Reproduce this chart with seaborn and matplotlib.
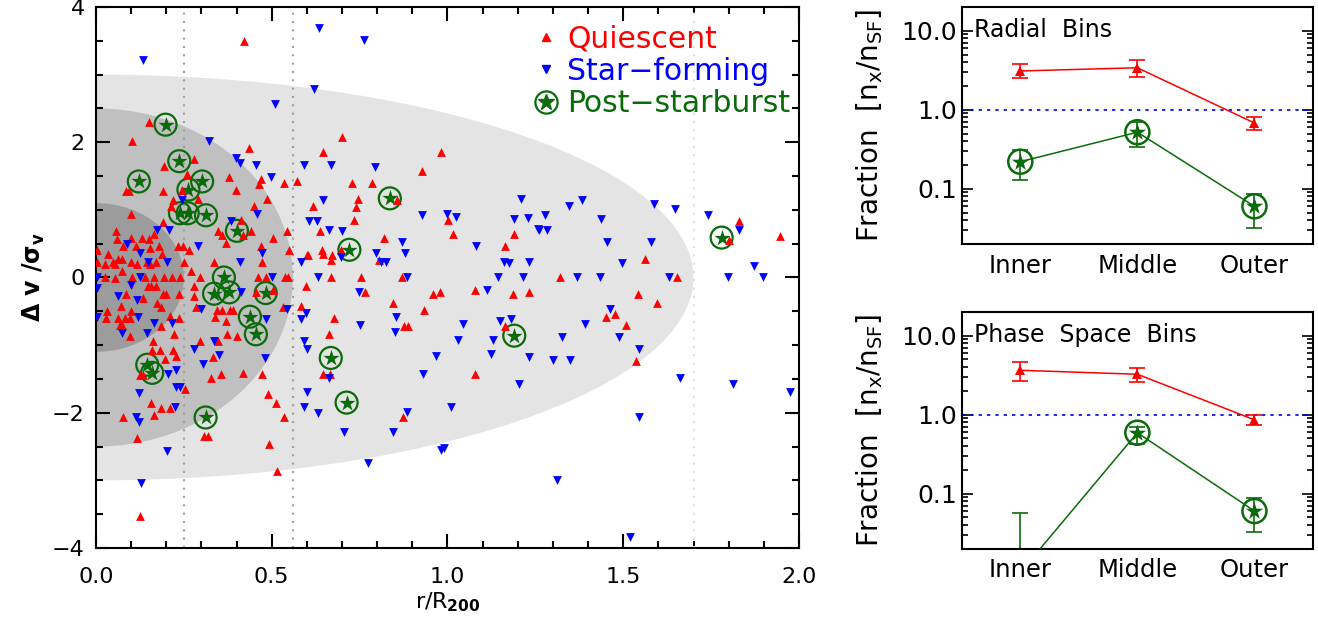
import matplotlib.pyplot as plt
import numpy as np
import seaborn as sns
from matplotlib.patches import Ellipse
from matplotlib.lines import Line2D
from matplotlib.legend_handler import HandlerTuple
from matplotlib.ticker import MultipleLocator, FormatStrFormatter, FixedLocator, FixedFormatter

sns.set_style('ticks')
plt.rcParams['font.family'] = ['DejaVu Sans']
plt.rcParams['mathtext.default'] = 'regular'
for k in ['text.color', 'axes.labelcolor', 'xtick.color', 'ytick.color', 'axes.edgecolor']:
    plt.rcParams[k] = 'black'

# ---- phase-space points: r/R200, dv/sigma ----
q_r = [0.151, 0.103, 0.279, 0.193, 0.258, 0.085, 0.094, 0.191, 0.245, 0.218, 0.213, 0.290, 0.100, 0.191,
       0.435, 0.379, 0.397, 0.470, 0.465, 0.536, 0.487, 0.450, 0.414, 0.346, 0.360, 0.370, 0.419, 0.441,
       0.503, 0.544, 0.469, 0.232, 0.248, 0.265, 0.251, 0.337, 0.473, 0.269, 0.056, 0.060, 0.099, 0.132,
       0.152, 0.165, 0.077, 0.113, 0.155, 0.179, 0.189, 0.035, 0.004, 0.064, 0.075, 0.027, 0.049, 0.054,
       0.099, 0.116, 0.146, 0.153, 0.172, 0.073, 0.002,
       0.026, 0.054, 0.103, 0.139, 0.166, 0.193, 0.217, 0.239, 0.296, 0.462, 0.484, 0.538,
       0.149, 0.158, 0.170, 0.280, 0.085, 0.190, 0.200, 0.236, 0.279, 0.454, 0.505, 0.135, 0.173, 0.071,
       0.184, 0.286, 0.032, 0.099, 0.345, 0.359, 0.381, 0.390, 0.531, 0.030, 0.064, 0.084, 0.097, 0.212,
       0.237, 0.338, 0.068, 0.075, 0.184, 0.222, 0.097, 0.370, 0.374, 0.400, 0.163, 0.296, 0.348, 0.160,
       0.182, 0.218, 0.229, 0.196, 0.334, 0.125, 0.135, 0.357, 0.417, 0.473, 0.326, 0.253, 0.490, 0.156,
       0.511, 0.184, 0.210, 0.165, 0.076, 0.536, 0.116, 0.307, 0.319, 0.492, 0.125, 0.514, 0.420,
       0.701, 0.647, 0.981, 0.928, 0.571, 0.729, 0.784, 0.745, 0.618, 0.741, 0.734, 0.637, 0.819, 1.002,
       1.015, 1.189, 1.163, 0.550, 0.642, 0.645, 0.599, 0.604, 0.671, 0.669, 0.697, 0.805, 0.857, 0.545,
       0.670, 0.754, 0.872,
       0.598, 0.764, 0.846, 0.960, 0.979, 1.078, 1.187, 1.232, 0.933, 0.583, 0.677, 0.876, 0.887, 0.662,
       1.164, 0.647, 0.666, 1.077, 0.874,
       1.320, 1.654, 1.543, 1.595, 1.451, 1.476, 1.507, 1.537, 1.562, 1.830, 1.946, 1.801]
q_v = [2.30, 2.02, 1.75, 1.65, 1.53, 1.28, 1.28, 1.28, 1.29, 1.14, 1.05, 1.16, 0.94, 0.82,
       1.91, 1.48, 1.29, 1.46, 1.38, 1.39, 1.16, 1.05, 0.85, 0.69, 0.63, 0.51, 0.63, 0.69,
       0.59, 0.69, 0.46, 0.47, 0.47, 0.40, 0.23, 0.23, 0.23, 0.10, 0.69, 0.57, 0.59, 0.59,
       0.57, 0.64, 0.46, 0.47, 0.44, 0.47, 0.34, 0.34, 0.40, 0.28, 0.27, 0.20, 0.23, 0.20,
       0.23, 0.20, 0.23, 0.20, 0.23, 0.10, 0.23,
       0.01, -0.01, 0.01, 0.00, 0.01, 0.00, 0.01, 0.00, 0.01, 0.01, 0.00, 0.01,
       -0.12, -0.12, -0.12, -0.12, -0.24, -0.24, -0.24, -0.24, -0.27, -0.22, -0.19, -0.31, -0.37, -0.42,
       -0.44, -0.44, -0.49, -0.49, -0.48, -0.48, -0.48, -0.48, -0.43, -0.60, -0.60, -0.60, -0.60, -0.57,
       -0.60, -0.58, -0.70, -0.70, -0.71, -0.83, -0.87, -0.65, -0.83, -0.87, -0.94, -0.94, -0.94, -1.07,
       -1.07, -1.07, -1.16, -1.20, -1.18, -1.44, -1.44, -1.42, -1.41, -1.43, -1.49, -1.65, -1.73, -1.86,
       -1.85, -1.93, -1.93, -2.03, -2.07, -2.07, -2.37, -2.35, -2.35, -2.46, -3.52, -2.86, 3.50,
       2.08, 1.85, 1.86, 1.57, 1.42, 1.39, 1.39, 1.16, 1.06, 1.04, 0.85, 0.69, 0.58, 0.85,
       0.64, 0.64, 0.46, 0.40, 0.40, 0.34, 0.33, 0.33, 0.33, 0.26, 0.40, 0.26, 1.15, 0.00,
       0.00, 0.00, 0.00,
       -0.13, -0.22, -0.37, -0.24, -0.22, -0.19, -0.24, -0.22, -0.48, -0.42, -0.60, -0.71, -0.71, -0.84,
       -0.72, -1.42, -1.42, -1.42, -2.06,
       0.00, 0.00, -0.24, -0.37, -0.59, -0.54, -0.70, -1.23, 0.28, 0.84, 0.62, 0.56]

sf_r = [0.135, 0.634, 0.762, 0.620, 0.509, 0.321, 0.397, 0.411, 0.455, 0.498, 0.246, 0.457, 0.383, 0.174,
        0.208, 0.089, 0.125, 0.289, 0.203, 0.149, 0.410, 0.471,
        0.125, 0.502, 0.002, 0.101, 0.064, 0.002, 0.118, 0.004, 0.120, 0.166, 0.144, 0.073, 0.215, 0.299,
        0.413, 0.484, 0.544, 0.336, 0.280, 0.351, 0.305, 0.481, 0.206, 0.228, 0.228, 0.239, 0.123, 0.225,
        0.113, 0.122, 0.201, 0.128,
        0.592, 0.670, 0.794, 0.645, 0.607, 0.630, 0.664, 0.700, 0.928, 0.998, 1.024, 1.080, 1.208, 1.189,
        1.228, 1.258, 0.871, 0.879, 0.798, 0.810, 0.824, 0.582, 0.696, 1.162, 1.175, 1.233, 0.631, 0.884,
        1.145, 1.214,
        0.749, 1.113, 0.597, 0.582, 0.751, 0.853, 0.851, 1.043, 1.150, 1.181, 0.592, 0.599, 1.031, 1.129,
        1.124, 0.966, 1.232, 0.929, 0.664, 1.203, 0.599, 0.592, 0.632, 0.884, 1.010, 0.705, 0.846, 0.981,
        0.990, 0.775,
        1.311, 1.519, 1.546, 1.662, 1.813, 1.974, 1.369, 1.434, 1.629, 1.799, 1.899, 1.461, 1.392, 1.327,
        1.489, 1.546, 1.301, 1.349, 1.382, 1.347, 1.278, 1.436, 1.260, 1.282, 1.587, 1.647, 1.742, 1.830,
        1.453, 1.579, 1.496, 1.872]
sf_v = [3.22, 3.69, 3.51, 2.78, 2.57, 2.02, 1.77, 1.70, 1.66, 1.48, 1.15, 0.94, 0.84, 0.70,
        0.70, 0.49, 0.36, 0.47, 0.23, 0.23, 0.23, 0.36,
        0.01, 0.01, 0.01, -0.11, -0.28, -0.16, -0.34, -0.58, -0.59, -0.68, -0.82, -0.82, -0.68, -0.47,
        -0.22, -0.61, -0.46, -0.94, -1.06, -1.15, -1.28, -1.19, -1.43, -1.37, -1.62, -1.62, -1.71, -1.92,
        -2.07, -2.13, -2.57, -3.04,
        1.66, 1.66, 1.63, 1.15, 0.83, 0.83, 0.70, 0.69, 0.93, 0.94, 0.89, 0.47, 1.16, 0.87,
        0.88, 0.71, 0.53, 0.36, 0.36, 0.23, 0.23, 0.23, 0.31, 0.23, 0.21, 0.23, 0.00, 0.00,
        0.00, 0.00,
        -0.22, -0.18, -0.52, -0.62, -0.70, -0.58, -0.81, -0.69, -0.64, -0.61, -0.94, -1.05, -0.93, -0.93,
        -1.13, -1.16, -1.18, -1.43, -1.48, -1.57, -1.70, -1.91, -2.00, -1.99, -1.91, -2.29, -2.28, -2.55,
        -2.52, -2.75,
        -2.99, -3.83, -2.07, -1.48, -1.57, -1.70, 0.00, 0.00, 0.00, 0.00, 0.00, -0.47, -0.69, -0.88,
        -0.88, -1.05, -1.22, -1.22, 1.15, 1.05, 0.93, 0.87, 0.70, 0.70, 1.08, 1.02, 0.92, 0.70,
        0.52, 0.52, 0.21, 0.17]

psb_r = [0.198, 0.237, 0.122, 0.302, 0.263, 0.239, 0.261, 0.313, 0.401, 0.364, 0.336, 0.379, 0.483, 0.438,
         0.455, 0.146, 0.160, 0.312, 0.836, 0.721, 0.668, 0.713, 1.190, 1.780]
psb_v = [2.26, 1.72, 1.42, 1.42, 1.30, 0.95, 0.95, 0.92, 0.69, 0.00, -0.24, -0.22, -0.23, -0.58,
         -0.84, -1.29, -1.41, -2.07, 1.17, 0.41, -1.19, -1.85, -0.86, 0.59]

# ---- fraction panels ----
bins = ['Inner', 'Middle', 'Outer']
rad_q = [3.1, 3.4, 0.68]
rad_q_lo = [2.5, 2.6, 0.56]
rad_q_hi = [3.8, 4.3, 0.80]
rad_psb = [0.22, 0.52, 0.060]
rad_psb_lo = [0.13, 0.34, 0.032]
rad_psb_hi = [0.31, 0.70, 0.086]

ps_q = [3.65, 3.25, 0.86]
ps_q_lo = [2.7, 2.6, 0.73]
ps_q_hi = [4.6, 3.9, 1.0]
ps_psb = [0.01, 0.59, 0.060]
ps_psb_lo = [0.02, 0.43, 0.033]
ps_psb_hi = [0.056, 0.70, 0.089]

red = '#ff0000'
blue = '#0000ff'
green = '#0a6b0a'

fig = plt.figure(figsize=(13.18, 6.24), dpi=100)

# main phase-space diagram
ax = fig.add_axes([0.0728, 0.1218, 0.5334, 0.867])
for a, b, c in [(1.7, 3.0, '#e4e4e4'), (0.56, 2.5, '#c0c0c0'), (0.25, 1.1, '#9c9c9c')]:
    ax.add_patch(Ellipse((0, 0), 2 * a, 2 * b, facecolor=c, edgecolor='none', zorder=0))
ax.axvline(0.25, color='#a0a0a0', ls=(0, (1, 3)), lw=1.5, zorder=1)
ax.axvline(0.56, color='#a0a0a0', ls=(0, (1, 3)), lw=1.5, zorder=1)
ax.axvline(1.70, color='#e0e0e0', ls=(0, (1, 3)), lw=1.5, zorder=1)

sns.scatterplot(x=psb_r, y=psb_v, marker='o', s=250, facecolor='none', edgecolor=green,
                linewidth=1.6, ax=ax, zorder=3)
sns.scatterplot(x=psb_r, y=psb_v, marker='*', s=150, color=green, linewidth=0, ax=ax, zorder=3)
sns.scatterplot(x=q_r, y=q_v, marker='^', s=40, color=red, linewidth=0, ax=ax, zorder=4)
sns.scatterplot(x=sf_r, y=sf_v, marker='v', s=40, color=blue, linewidth=0, ax=ax, zorder=4)

ax.set_xlim(0, 2)
ax.set_ylim(-4, 4)
ax.xaxis.set_major_locator(MultipleLocator(0.5))
ax.xaxis.set_minor_locator(MultipleLocator(0.1))
ax.xaxis.set_major_formatter(FormatStrFormatter('%.1f'))
ax.yaxis.set_major_locator(MultipleLocator(2))
ax.yaxis.set_minor_locator(MultipleLocator(0.5))
ax.tick_params(which='both', direction='in', top=True, right=True, width=1.5, labelsize=16)
ax.tick_params(which='major', length=10, pad=8)
ax.tick_params(axis='x', which='major', pad=14)
ax.tick_params(which='minor', length=5)
for s in ax.spines.values():
    s.set_linewidth(1.5)
ax.set_xlabel(r'r/R$_{\mathbf{200}}$', fontsize=16, labelpad=2)
ax.set_ylabel(r'$\Delta$ v /$\sigma_{v}$', fontsize=17, fontweight='bold', labelpad=4)

h_q = Line2D([], [], marker='^', color=red, ls='none', markersize=6)
h_sf = Line2D([], [], marker='v', color=blue, ls='none', markersize=6)
h_psb = (Line2D([], [], marker='o', mfc='none', mec=green, mew=1.6, ms=16, ls='none'),
         Line2D([], [], marker='*', color=green, ms=12, ls='none'))
ax.legend([h_q, h_sf, h_psb], ['Quiescent', 'Star\u2212forming', 'Post\u2212starburst'],
          handler_map={tuple: HandlerTuple(ndivide=1)}, loc='upper right',
          bbox_to_anchor=(1.0, 0.985), frameon=False,
          fontsize=21.5, handlelength=1.0, handletextpad=0.2, labelspacing=0.12,
          borderaxespad=0.1, borderpad=0.2, labelcolor=[red, blue, green])


def fraction_panel(rect, title, q, q_lo, q_hi, p, p_lo, p_hi):
    axf = fig.add_axes(rect)
    x = [1, 2, 3]
    axf.axhline(1.0, color=blue, ls=(0, (2, 3)), lw=1.2, zorder=1)
    axf.errorbar(x, q, yerr=[np.subtract(q, q_lo), np.subtract(q_hi, q)], fmt='none',
                 ecolor=red, capsize=6, elinewidth=1.2, capthick=1.2, zorder=2)
    sns.lineplot(x=x, y=q, color=red, marker='^', markersize=7, markeredgewidth=0,
                 linewidth=1.1, ax=axf, zorder=3)
    p_low = np.clip(np.subtract(p, p_lo), 0, None)
    axf.errorbar(x, p, yerr=[p_low, np.subtract(p_hi, p)], fmt='none',
                 ecolor=green, capsize=6, elinewidth=1.2, capthick=1.2, zorder=2)
    sns.lineplot(x=x, y=p, color=green, linewidth=1.1, ax=axf, zorder=3)
    sns.scatterplot(x=x, y=p, marker='o', s=300, facecolor='none', edgecolor=green,
                    linewidth=1.8, ax=axf, zorder=4)
    sns.scatterplot(x=x, y=p, marker='*', s=170, color=green, linewidth=0, ax=axf, zorder=4)
    axf.set_yscale('log')
    axf.set_ylim(0.02, 20)
    axf.set_xlim(0.5, 3.5)
    axf.xaxis.set_major_locator(FixedLocator(x))
    axf.xaxis.set_major_formatter(FixedFormatter(bins))
    axf.yaxis.set_major_locator(FixedLocator([0.1, 1, 10]))
    axf.yaxis.set_major_formatter(FixedFormatter(['0.1', '1.0', '10.0']))
    axf.tick_params(axis='x', length=0, labelsize=17.5, pad=7)
    axf.tick_params(axis='y', which='both', direction='in', left=True, right=True, width=1.2, labelsize=18)
    axf.tick_params(axis='y', which='major', length=8)
    axf.tick_params(axis='y', which='minor', length=4)
    for s in axf.spines.values():
        s.set_linewidth(1.5)
    axf.set_ylabel(r'Fraction  [n$_{x}$/n$_{SF}$]', fontsize=20, labelpad=12)
    axf.text(0.035, 0.955, title, transform=axf.transAxes, fontsize=17, va='top', ha='left')
    return axf


fraction_panel([0.7297, 0.609, 0.2665, 0.3798], 'Radial  Bins',
               rad_q, rad_q_lo, rad_q_hi, rad_psb, rad_psb_lo, rad_psb_hi)
fraction_panel([0.7297, 0.1207, 0.2665, 0.3793], 'Phase  Space  Bins',
               ps_q, ps_q_lo, ps_q_hi, ps_psb, ps_psb_lo, ps_psb_hi)

fig.savefig('out.png', dpi=100)
